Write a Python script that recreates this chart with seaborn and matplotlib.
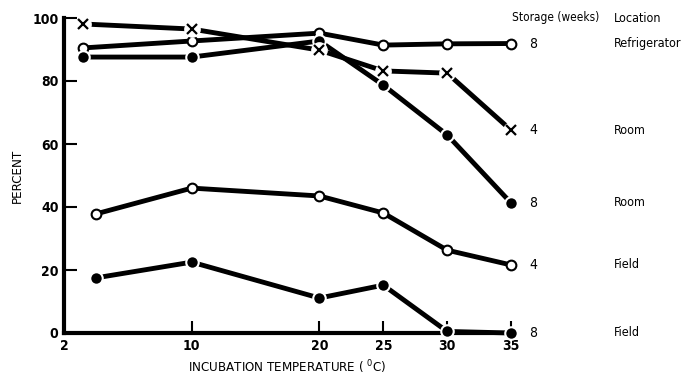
import numpy as np
import pandas as pd
import matplotlib
matplotlib.use("Agg")
import matplotlib.pyplot as plt
import seaborn as sns

# ---- data ----
tick_temps = [2, 10, 20, 25, 30, 35]
tick_labels = ["2", "10", "20", "25", "30", "35"]
temps_a = [3.2, 10, 20, 25, 30, 35]
temps_b = [4, 10, 20, 25, 30, 35]

refrig_8 = [90.5, 92.7, 95.2, 91.4, 91.8, 91.9]
room_4 = [98.1, 96.5, 89.8, 83.2, 82.5, 64.4]
room_8 = [87.6, 87.6, 92.7, 78.7, 62.9, 41.3]
field_4 = [37.8, 46.0, 43.5, 38.1, 26.3, 21.6]
field_8 = [17.5, 22.5, 11.1, 15.2, 0.5, 0.0]

storage_labels = ["8", "4", "8", "4", "8"]
location_labels = ["Refrigerator", "Room", "Room", "Field", "Field"]

sns.set_theme(style="ticks")
plt.rcParams["font.family"] = ["DejaVu Sans"]
plt.rcParams["font.stretch"] = "condensed"
plt.rcParams["text.color"] = "black"
plt.rcParams["axes.labelcolor"] = "black"
plt.rcParams["xtick.color"] = "black"
plt.rcParams["ytick.color"] = "black"

fig = plt.figure(figsize=(6.84, 3.77), dpi=100)
ax = fig.add_axes([64 / 684, 1 - 333 / 377, (511 - 64) / 684, (333 - 18) / 377])

def fwd(t):
    return np.interp(t, [2, 10, 35], [0, 2, 7])

def inv(p):
    return np.interp(p, [0, 2, 7], [2, 10, 35])

ax.set_xscale("function", functions=(fwd, inv))

series = [
    (temps_a, refrig_8, "open"),
    (temps_a, room_4, "x"),
    (temps_a, room_8, "filled"),
    (temps_b, field_4, "open"),
    (temps_b, field_8, "filled"),
]

for xs, ys, kind in series:
    df = pd.DataFrame({"t": xs, "v": ys})
    if kind == "open":
        kw = dict(marker="o", markersize=7, markerfacecolor="white",
                  markeredgecolor="black", markeredgewidth=1.5)
    elif kind == "filled":
        kw = dict(marker="o", markersize=9, markerfacecolor="black",
                  markeredgecolor="white", markeredgewidth=1.5)
    else:
        kw = dict(marker="x", markersize=7, markeredgecolor="black",
                  markeredgewidth=1.6)
    if kind == "x":
        sns.lineplot(data=df, x="t", y="v", ax=ax, color="black", linewidth=3.5,
                     clip_on=False, zorder=3)
        ax.plot(df["t"], df["v"], linestyle="none", marker="o", markersize=11,
                markerfacecolor="white", markeredgecolor="white", clip_on=False, zorder=4)
        ax.plot(df["t"], df["v"], linestyle="none", clip_on=False, zorder=5, **kw)
    else:
        sns.lineplot(data=df, x="t", y="v", ax=ax, color="black", linewidth=3.5,
                     clip_on=False, zorder=3, **kw)

ax.set_xlim(2, 35)
ax.set_ylim(0, 100)
ax.set_xticks(tick_temps)
ax.set_xticklabels(tick_labels)
ax.set_yticks([0, 20, 40, 60, 80, 100])
ax.minorticks_off()
for s in ["top", "right"]:
    ax.spines[s].set_visible(False)
for s in ["left", "bottom"]:
    ax.spines[s].set_linewidth(3)
    ax.spines[s].set_color("black")
ax.tick_params(direction="in", length=9, width=1.5, labelsize=10, pad=4)
for lab in ax.get_xticklabels() + ax.get_yticklabels():
    lab.set_fontweight("bold")
ax.set_xlabel("INCUBATION TEMPERATURE ( $^{0}$C)", fontsize=9.5, labelpad=4)
ax.set_ylabel("PERCENT", fontsize=9.5, labelpad=6)

ends = [s[1][-1] for s in series]
for v, st, loc in zip(ends, storage_labels, location_labels):
    ax.annotate(st, xy=(35, v), xytext=(13, 0), textcoords="offset points",
                va="center", ha="left", fontsize=10, annotation_clip=False)
    ax.annotate(loc, xy=(35, v), xytext=(74, 0), textcoords="offset points",
                va="center", ha="left", fontsize=9, annotation_clip=False)
ax.annotate("Storage (weeks)", xy=(35, 100), xytext=(1, 0), textcoords="offset points",
            va="center", ha="left", fontsize=8.5, annotation_clip=False)
ax.annotate("Location", xy=(35, 100), xytext=(74, 0), textcoords="offset points",
            va="center", ha="left", fontsize=9, annotation_clip=False)

fig.savefig("out.png", dpi=100)
